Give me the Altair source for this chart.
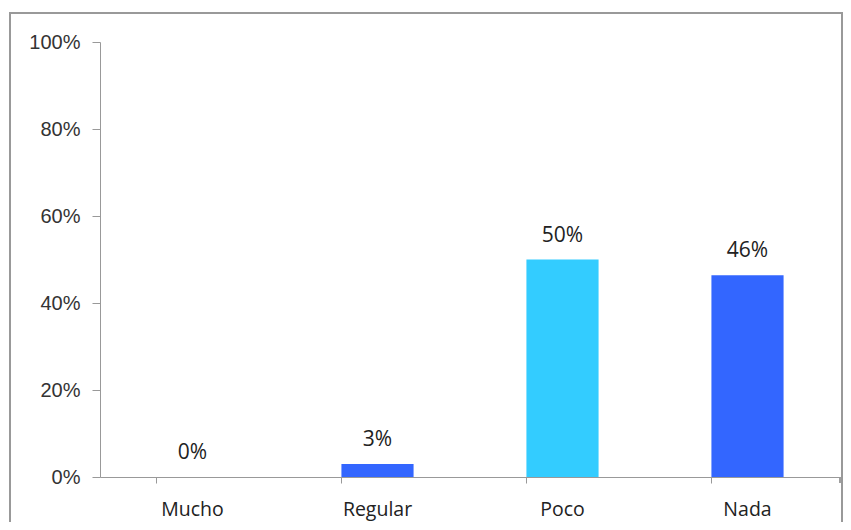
import altair as alt
import pandas as pd

categories = ["Mucho", "Regular", "Poco", "Nada"]
values = [0.0, 0.03, 0.50, 0.464]
labels = ["0%", "3%", "50%", "46%"]
colors = ["#3366FF", "#3366FF", "#33CCFF", "#3366FF"]

df = pd.DataFrame({"cat": categories, "val": values, "lab": labels, "col": colors})

W, H = 740, 435

x = alt.X("cat:N", sort=categories, title=None,
          scale=alt.Scale(paddingInner=0.61, paddingOuter=0.305),
          axis=alt.Axis(labelAngle=0, labelFont="Open Sans", labelFontSize=19.5,
                        labelColor="#222", domainColor="#999", tickColor="#999",
                        tickSize=6, bandPosition=0, labelPadding=17, grid=False))
y = alt.Y("val:Q", title=None,
          scale=alt.Scale(domain=[0, 1]),
          axis=alt.Axis(values=[0, 0.2, 0.4, 0.6, 0.8, 1.0], format=".0%",
                        labelFont="Liberation Sans", labelFontSize=20, labelColor="#333",
                        domainColor="#999", tickColor="#999", tickSize=8,
                        labelPadding=12, grid=False))

bars = alt.Chart(df).mark_bar().encode(
    x=x, y=y, color=alt.Color("col:N", scale=None)
)
text = alt.Chart(df).mark_text(dy=-18, fontSize=21, font="Open Sans", color="#222",
                               baseline="alphabetic").encode(
    x=alt.X("cat:N", sort=categories), y="val:Q", text="lab:N"
)
endtick = alt.Chart(df).mark_rule(color="#999").encode(
    x=alt.value(W), y=alt.value(H), y2=alt.value(H + 6)
)
border = alt.Chart(df).mark_rect(fill=None, stroke="#999", strokeWidth=2).encode(
    x=alt.value(-90), x2=alt.value(742), y=alt.value(-29), y2=alt.value(520)
)

chart = alt.layer(bars, text, endtick, border).properties(
    width=W, height=H,
    padding={"left": 92, "top": 34, "right": 3, "bottom": 45},
    autosize=alt.AutoSizeParams(type="none"),
    background="white",
).configure_view(strokeWidth=0, stroke="transparent")

chart.save("out.html", embed_options={"renderer": "svg", "actions": False})
